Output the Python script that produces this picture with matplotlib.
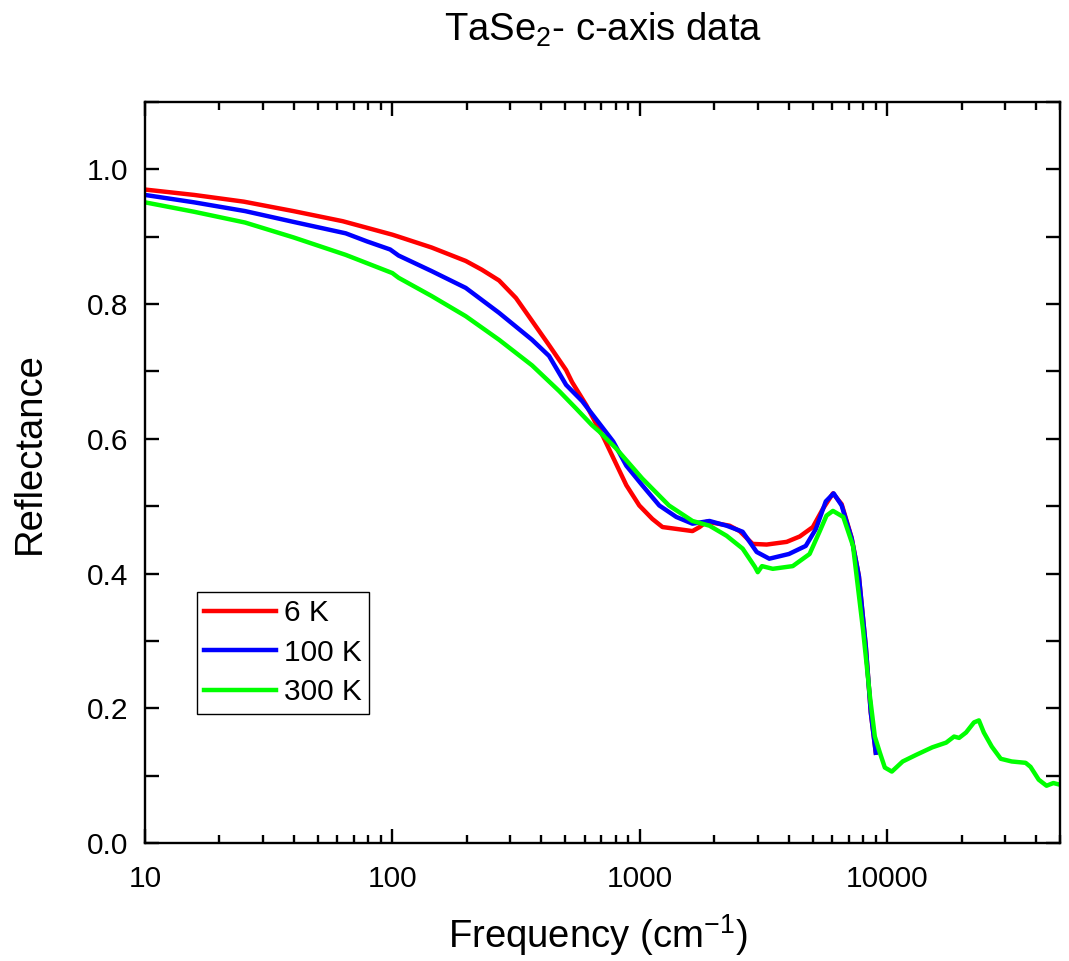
import numpy as np
import matplotlib
matplotlib.use("Agg")
import matplotlib.pyplot as plt
from matplotlib.ticker import MultipleLocator, LogLocator, NullFormatter

plt.rcParams['font.family'] = ['Liberation Sans', 'DejaVu Sans']
plt.rcParams['mathtext.fontset'] = 'custom'
plt.rcParams['mathtext.rm'] = 'Liberation Sans'
plt.rcParams['mathtext.it'] = 'Liberation Sans:italic'
plt.rcParams['mathtext.bf'] = 'Liberation Sans:bold'

# 6 K
f_6K = [10, 15.8, 25.1, 39.8, 63, 100, 106, 144, 198, 230, 270, 316, 367, 430,
        504, 533, 608, 667, 712, 774, 883, 996, 1125, 1236, 1634, 1746, 1864,
        2307, 2535, 2860, 3260, 3928, 4436, 5010, 5500, 6040, 6550, 7190,
        7690, 8200, 8590, 9000]
R_6K = [0.970, 0.962, 0.952, 0.938, 0.923, 0.903, 0.900, 0.884, 0.864, 0.851,
        0.835, 0.809, 0.775, 0.739, 0.702, 0.684, 0.650, 0.622, 0.603, 0.575,
        0.531, 0.501, 0.481, 0.469, 0.463, 0.469, 0.477, 0.471, 0.463, 0.444,
        0.443, 0.447, 0.455, 0.469, 0.496, 0.519, 0.503, 0.453, 0.396, 0.292,
        0.194, 0.134]

# 100 K
f_100K = [10, 15.8, 25.4, 39.8, 64.8, 79, 98, 106, 144, 198, 270, 367, 430,
          504, 585, 686, 781, 883, 1024, 1200, 1405, 1634, 1914, 2245, 2606,
          2970, 3340, 4010, 4690, 5150, 5650, 6080, 6550, 7190, 7690, 8200,
          8590, 9000]
R_100K = [0.962, 0.951, 0.938, 0.922, 0.905, 0.893, 0.881, 0.872, 0.849, 0.824,
          0.787, 0.747, 0.723, 0.680, 0.656, 0.623, 0.596, 0.560, 0.531, 0.501,
          0.484, 0.474, 0.478, 0.471, 0.462, 0.432, 0.422, 0.429, 0.441, 0.466,
          0.507, 0.519, 0.501, 0.452, 0.396, 0.292, 0.194, 0.134]

# 300 K
f_300K = [10, 15.8, 25.4, 39.8, 64.8, 100, 106, 144, 198, 270, 367, 472, 553,
          642, 685, 801, 1024, 1313, 1634, 1914, 2245, 2606, 2920, 3000, 3120,
          3450, 4155, 4860, 5330, 5690, 6040, 6650, 7280, 7990, 8520, 8920,
          9350, 9790, 10450, 11560, 13140, 15230, 17330, 18650, 19540, 20850,
          22450, 23500, 24600, 26500, 28800, 31900, 36300, 38000, 41000, 44100,
          47000, 50600]
R_300K = [0.951, 0.937, 0.921, 0.899, 0.873, 0.846, 0.839, 0.812, 0.782, 0.747,
          0.709, 0.671, 0.645, 0.620, 0.611, 0.586, 0.541, 0.501, 0.478, 0.471,
          0.456, 0.437, 0.410, 0.402, 0.411, 0.407, 0.411, 0.429, 0.462, 0.486,
          0.493, 0.484, 0.441, 0.317, 0.218, 0.158, 0.134, 0.112, 0.106, 0.121,
          0.131, 0.142, 0.149, 0.158, 0.156, 0.164, 0.179, 0.182, 0.164, 0.143,
          0.125, 0.121, 0.119, 0.113, 0.094, 0.085, 0.089, 0.086]

fig = plt.figure(figsize=(10.69, 9.61), dpi=100)
ax = fig.add_axes([0.1356, 0.1228, 0.8560, 0.7711])

ax.plot(f_6K, R_6K, color='#ff0000', lw=3.2, label='6 K')
ax.plot(f_100K, R_100K, color='#0000ff', lw=3.2, label='100 K')
ax.plot(f_300K, R_300K, color='#00ff00', lw=3.2, label='300 K')

ax.set_xscale('log')
ax.set_xlim(10, 50000)
ax.set_ylim(0, 1.1)
ax.xaxis.set_minor_locator(LogLocator(base=10, subs=np.arange(2, 10), numticks=20))
ax.xaxis.set_minor_formatter(NullFormatter())
ax.set_xticks([10, 100, 1000, 10000])
ax.set_xticklabels(['10', '100', '1000', '10000'])
ax.yaxis.set_major_locator(MultipleLocator(0.2))
ax.yaxis.set_minor_locator(MultipleLocator(0.1))
ax.yaxis.set_major_formatter(plt.FuncFormatter(lambda v, p: '%.1f' % v))

for s in ax.spines.values():
    s.set_linewidth(1.7)
ax.tick_params(which='both', direction='in', top=True, right=True, width=1.7)
ax.tick_params(axis='x', which='major', length=10, labelsize=21.5, pad=16)
ax.tick_params(axis='x', which='minor', length=6)
ax.tick_params(axis='y', which='both', length=10, labelsize=21.5, pad=12)

ax.set_xlabel('Frequency (cm$^{-1}$)', fontsize=27.5, va='center')
ax.xaxis.set_label_coords(0.495, -0.124)
ax.set_ylabel('Reflectance', fontsize=27.5, va='center')
ax.yaxis.set_label_coords(-0.126, 0.526)
ax.text(0.5005, 1.097, 'TaSe$_2$- c-axis data', transform=ax.transAxes,
        ha='center', va='center', fontsize=27.5)

leg = ax.legend(loc='upper left', bbox_to_anchor=(0.0568, 0.3387),
                borderaxespad=0, fontsize=21.5, handlelength=2.4,
                handletextpad=0.27, labelspacing=0.38, borderpad=0.25,
                fancybox=False, framealpha=1)
leg.get_frame().set_edgecolor('black')
leg.get_frame().set_linewidth(1.0)

fig.savefig('out.png', dpi=100)
